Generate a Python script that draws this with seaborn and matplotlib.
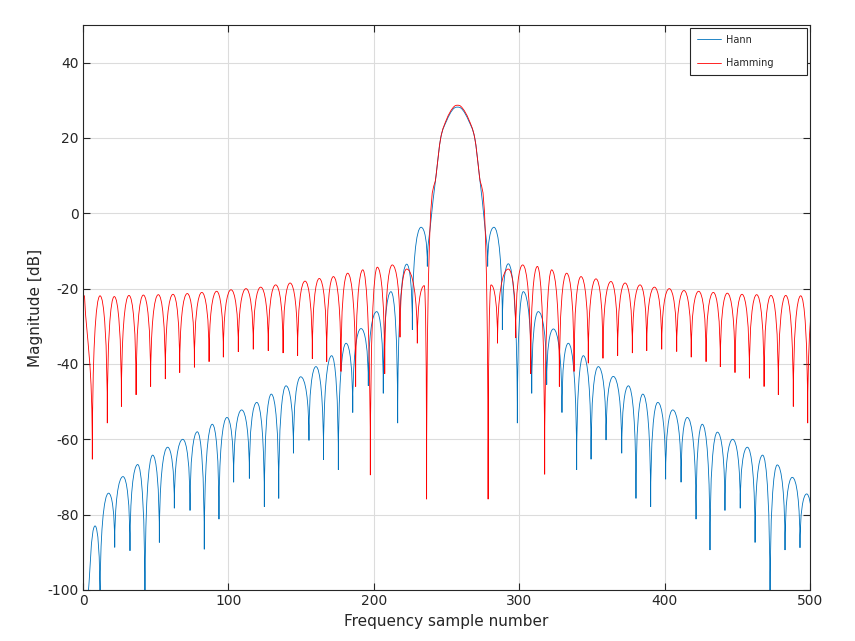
import matplotlib
matplotlib.use("Agg")
import matplotlib.pyplot as plt
from matplotlib.lines import Line2D
from matplotlib.path import Path
from matplotlib.patches import PathPatch
import seaborn as sns

# Hann window spectrum: alternating null / peak points plus the main lobe
hann_x = [3.0, 8.3, 11.7, 17.6, 21.8, 27.5, 32.3, 37.6, 42.6, 47.9, 52.5, 58.2, 62.8, 68.6,
          73.6, 78.6, 83.4, 88.9, 93.5, 99.0, 103.6, 109.1, 114.4, 119.5, 124.7, 129.5,
          134.6, 139.6, 144.7, 149.7, 155.4, 160.2, 165.4, 171.0, 175.6, 180.9, 185.5,
          191.2, 196.2, 202.0, 206.5, 211.8, 216.4, 222.6, 226.5, 232.5, 236.8,
          238.6, 242.8, 246.0, 250.1, 254.0, 257.6, 261.2, 265.2, 269.4, 272.6, 276.6,
          278.3, 282.6, 288.4, 292.5, 298.7, 302.8, 308.6, 313.1, 318.9, 323.5, 329.4,
          333.8, 339.5, 344.1, 349.4, 354.4, 359.7, 364.7, 370.5, 375.1, 380.3, 385.0,
          390.4, 395.3, 400.7, 405.6, 411.3, 415.6, 421.6, 425.9, 431.2, 436.3, 441.5,
          446.8, 452.0, 456.9, 462.2, 467.4, 472.5, 477.5, 482.8, 487.8, 493.1, 497.7,
          503.4, 507.0, 512.0]
hann_db = [-104, -83.0, -104, -74.3, -88.7, -69.9, -89.6, -66.7, -104, -64.2, -87.4, -62.1,
           -78.3, -60.0, -78.9, -58.0, -89.2, -56.0, -81.2, -54.2, -71.4, -52.2, -70.4,
           -50.2, -77.9, -48.0, -75.7, -45.8, -63.7, -43.4, -60.3, -40.7, -65.4, -37.8,
           -68.1, -34.5, -52.9, -30.6, -45.8, -26.1, -47.8, -20.8, -55.7, -13.5, -30.9,
           -3.7, -14.1,
           -4.4, 10.0, 20.0, 24.6, 27.4, 28.2, 27.4, 24.6, 20.0, 10.0, -4.4,
           -14.1, -3.7, -30.9, -13.4, -55.7, -20.8, -47.8, -26.1, -45.5, -30.7, -52.9,
           -34.5, -68.1, -37.8, -65.3, -40.7, -60.2, -43.3, -63.7, -45.8, -75.7, -48.0,
           -77.9, -50.2, -70.6, -52.2, -71.4, -54.2, -81.2, -56.0, -89.4, -58.1, -78.9,
           -60.0, -78.3, -62.1, -87.4, -64.2, -104, -66.8, -89.4, -70.1, -88.8, -74.5,
           -104, -83.0, -104]

# Hamming window spectrum
hamming_x = [1.0, 6.4, 11.7, 16.7, 21.5, 26.4, 31.6, 36.5, 41.5, 46.5, 51.8, 56.6, 61.9,
             66.5, 71.7, 76.6, 81.7, 86.7, 91.9, 96.5, 101.8, 106.8, 112.1, 117.1, 122.2,
             127.4, 132.5, 137.6, 142.4, 147.6, 152.7, 157.7, 162.5, 167.6, 172.2, 177.4,
             182.0, 187.5, 192.4, 197.6, 202.4, 207.5, 212.7, 218.0, 222.6, 229.9, 234.7,
             236.3, 238.6, 242.8, 246.0, 250.1, 254.0, 257.6, 261.2, 265.2, 269.4, 272.6,
             276.6, 278.6, 280.6, 285.1, 292.5, 297.6, 302.4, 307.9, 312.5, 317.5, 322.3,
             327.6, 332.6, 337.7, 342.5, 347.5, 352.8, 357.6, 363.1, 367.7, 372.8, 377.8,
             383.1, 387.7, 393.0, 398.0, 403.2, 408.3, 413.3, 418.3, 423.4, 428.5, 433.5,
             438.3, 443.1, 448.4, 453.2, 458.3, 463.3, 468.4, 473.2, 478.2, 483.3, 488.5,
             493.6, 498.4, 503.6, 508.6, 512.0]
hamming_db = [-21.8, -65.3, -21.9, -55.7, -22.1, -51.3, -21.8, -48.2, -21.7, -46.0, -21.6,
              -44.0, -21.5, -42.3, -21.3, -40.9, -21.0, -39.4, -20.7, -38.2, -20.3, -36.8,
              -20.0, -36.1, -19.6, -36.5, -19.0, -37.1, -18.5, -37.8, -18.0, -38.6, -17.3,
              -39.4, -16.8, -42.0, -15.9, -46.0, -15.0, -69.5, -14.3, -42.6, -13.7, -32.9,
              -14.8, -34.5, -19.2,
              -75.9, -4.4, 10.0, 20.0, 25.0, 27.8, 28.7, 27.8, 25.0, 20.0, 10.0, -4.4,
              -75.9, -19.0, -34.5, -14.8, -33.1, -13.7, -42.6, -14.1, -69.3, -15.0, -46.0,
              -15.9, -42.0, -16.8, -39.8, -17.4, -38.5, -18.1, -37.8, -18.5, -37.1, -19.0,
              -36.5, -19.6, -36.1, -20.0, -36.7, -20.5, -38.2, -20.7, -39.4, -21.0, -40.8,
              -21.2, -42.3, -21.5, -43.8, -21.6, -46.0, -21.8, -48.2, -21.8, -51.3, -21.9,
              -55.7, -21.9, -65.0, -22.0]

colors = {"Hann": "#0072BD", "Hamming": "#FF0000"}


def smooth_path(xs, ys):
    # bezier through the read points: round over the lobe tops, steep into the nulls
    n = len(xs)

    def kind(i):
        if i == 0 or i == n - 1:
            return "end"
        if ys[i] > ys[i - 1] and ys[i] > ys[i + 1]:
            return "max"
        if ys[i] < ys[i - 1] and ys[i] < ys[i + 1]:
            return "min"
        return "mid"

    def slope(i):
        # one tangent per point, limited so the curve does not overshoot
        left = (ys[i] - ys[i - 1]) / (xs[i] - xs[i - 1])
        right = (ys[i + 1] - ys[i]) / (xs[i + 1] - xs[i])
        m = (ys[i + 1] - ys[i - 1]) / (xs[i + 1] - xs[i - 1])
        lim = 3 * min(abs(left), abs(right))
        return max(-lim, min(lim, m))

    verts = [(xs[0], ys[0])]
    codes = [Path.MOVETO]
    for i in range(n - 1):
        x0, y0, x1, y1 = xs[i], ys[i], xs[i + 1], ys[i + 1]
        dx, dy = x1 - x0, y1 - y0
        k0, k1 = kind(i), kind(i + 1)
        if k0 == "max":
            c1 = (x0 + 0.55 * dx, y0)
        elif k0 == "min":
            c1 = (x0, y0 + 0.65 * dy)
        elif k0 == "mid":
            c1 = (x0 + dx / 3, y0 + slope(i) * dx / 3)
        else:
            c1 = (x0 + dx / 3, y0 + dy / 3)
        if k1 == "max":
            c2 = (x1 - 0.55 * dx, y1)
        elif k1 == "min":
            c2 = (x1, y1 - 0.65 * dy)
        elif k1 == "mid":
            c2 = (x1 - dx / 3, y1 - slope(i + 1) * dx / 3)
        else:
            c2 = (x1 - dx / 3, y1 - dy / 3)
        verts += [c1, c2, (x1, y1)]
        codes += [Path.CURVE4] * 3
    return Path(verts, codes)


sns.set_theme(style="whitegrid")
plt.rcParams["font.family"] = ["DejaVu Sans"]
plt.rcParams["axes.unicode_minus"] = False

fig = plt.figure(figsize=(8.55, 6.41), dpi=100)
ax = fig.add_axes([0.0971, 0.0796, 0.8503, 0.8814])

ax.add_patch(PathPatch(smooth_path(hann_x, hann_db), fill=False, edgecolor=colors["Hann"], lw=0.6))
ax.add_patch(PathPatch(smooth_path(hamming_x, hamming_db), fill=False, edgecolor=colors["Hamming"], lw=0.6))

ax.set_xlim(0, 500)
ax.set_ylim(-100, 50)
ax.set_xticks(range(0, 501, 100))
ax.set_yticks(range(-100, 41, 20))
ax.grid(True, color="#dcdcdc", linewidth=0.8)
for s in ax.spines.values():
    s.set_visible(True)
    s.set_color("#262626")
    s.set_linewidth(0.8)
ax.tick_params(direction="in", length=5, width=0.8, color="#262626", labelsize=10,
               labelcolor="#262626", top=True, right=True, bottom=True, left=True, pad=3)
ax.set_xlabel("Frequency sample number", fontsize=11, color="#262626", labelpad=4)
ax.set_ylabel("Magnitude [dB]", fontsize=11, color="#262626", labelpad=3)

handles = [Line2D([], [], color=colors[k], lw=0.6) for k in colors]
leg = ax.legend(handles, list(colors), loc="upper left", bbox_to_anchor=(0.835, 0.913, 0.161, 0.0817),
                mode="expand", fontsize=7, frameon=True, fancybox=False, edgecolor="#262626",
                framealpha=1, handlelength=2.5, labelspacing=1.35, borderaxespad=0,
                borderpad=0.7, handletextpad=0.5)
leg.get_frame().set_linewidth(0.8)

fig.savefig("out.png", dpi=100)
